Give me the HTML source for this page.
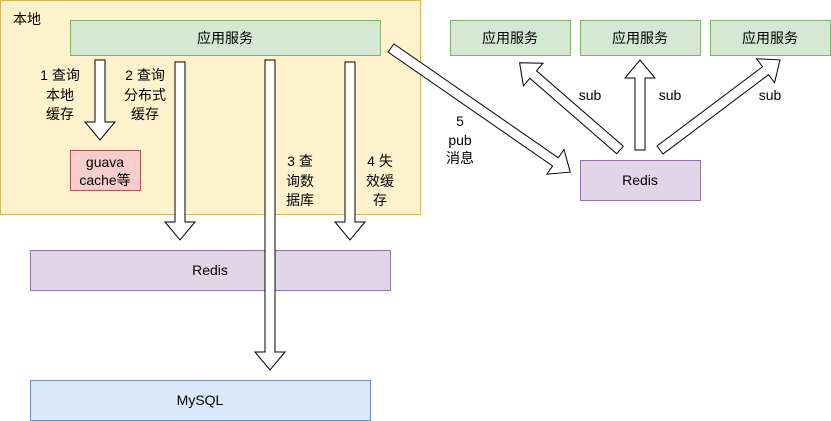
<!DOCTYPE html>
<html><head><meta charset="utf-8"><style>
html,body{margin:0;padding:0;background:#fff;}
svg{display:block;font-family:"Liberation Sans","Noto Sans CJK SC",sans-serif;}
</style></head><body>
<svg width="831" height="421" viewBox="0 0 831 421" xmlns="http://www.w3.org/2000/svg">
<rect x="0.5" y="0.5" width="420" height="214" fill="#fff2cc" stroke="#d6b656"/>
<text x="13" y="24" font-size="14">本地</text>
<rect x="70.5" y="20.5" width="310" height="35" fill="#d5e8d4" stroke="#82b366"/>
<text x="225" y="43" font-size="14" text-anchor="middle">应用服务</text>
<rect x="70.5" y="150.5" width="70" height="40" fill="#f8cecc" stroke="#b85450"/>
<text x="105" y="167" font-size="14" text-anchor="middle">guava</text>
<text x="105" y="185" font-size="14" text-anchor="middle">cache等</text>
<rect x="30.5" y="250.5" width="360" height="40" fill="#e1d5e7" stroke="#9673a6"/>
<text x="210" y="275" font-size="14" text-anchor="middle">Redis</text>
<rect x="30.5" y="380.5" width="340" height="40" fill="#dae8fc" stroke="#6c8ebf"/>
<text x="200" y="405" font-size="14" text-anchor="middle">MySQL</text>
<rect x="450.5" y="20.5" width="120" height="35" fill="#d5e8d4" stroke="#82b366"/>
<text x="510" y="43" font-size="14" text-anchor="middle">应用服务</text>
<rect x="580.5" y="20.5" width="120" height="35" fill="#d5e8d4" stroke="#82b366"/>
<text x="640" y="43" font-size="14" text-anchor="middle">应用服务</text>
<rect x="710.5" y="20.5" width="120" height="35" fill="#d5e8d4" stroke="#82b366"/>
<text x="770" y="43" font-size="14" text-anchor="middle">应用服务</text>
<rect x="580.5" y="160.5" width="120" height="40" fill="#e1d5e7" stroke="#9673a6"/>
<text x="640" y="185" font-size="14" text-anchor="middle">Redis</text>
<g fill="#fff" stroke="#000" stroke-width="1">
<g transform="translate(100,60) rotate(90)"><polygon points="0,-5 62,-5 62,-15 80,0 62,15 62,5 0,5"/></g>
<g transform="translate(180,62) rotate(90)"><polygon points="0,-5 160,-5 160,-15 178,0 160,15 160,5 0,5"/></g>
<g transform="translate(270,60) rotate(90)"><polygon points="0,-5 292,-5 292,-15 310,0 292,15 292,5 0,5"/></g>
<g transform="translate(350,62) rotate(90)"><polygon points="0,-5 160,-5 160,-15 178,0 160,15 160,5 0,5"/></g>
<g transform="translate(391,48) rotate(34.7)"><polygon points="0,-5 200,-5 200,-15 218,0 200,15 200,5 0,5"/></g>
<g transform="translate(620,150) rotate(221)"><polygon points="0,-5 115,-5 115,-15 133,0 115,15 115,5 0,5"/></g>
<g transform="translate(640,150) rotate(-90)"><polygon points="0,-5 72,-5 72,-15 90,0 72,15 72,5 0,5"/></g>
<g transform="translate(660,150) rotate(-36.9)"><polygon points="0,-5 132,-5 132,-15 150,0 132,15 132,5 0,5"/></g>
</g>
<g font-size="14" text-anchor="middle">
<text x="60" y="80">1 查询</text><text x="60" y="100">本地</text><text x="60" y="119">缓存</text>
<text x="145" y="80">2 查询</text><text x="145" y="100">分布式</text><text x="145" y="119">缓存</text>
<text x="300" y="166">3 查</text><text x="300" y="186">询数</text><text x="300" y="205">据库</text>
<text x="380" y="166">4 失</text><text x="380" y="186">效缓</text><text x="380" y="205">存</text>
<text x="460" y="126">5</text><text x="460" y="145">pub</text><text x="460" y="163">消息</text>
<text x="590" y="100">sub</text><text x="670" y="100">sub</text><text x="770" y="100">sub</text>
</g>
</svg>
</body></html>
